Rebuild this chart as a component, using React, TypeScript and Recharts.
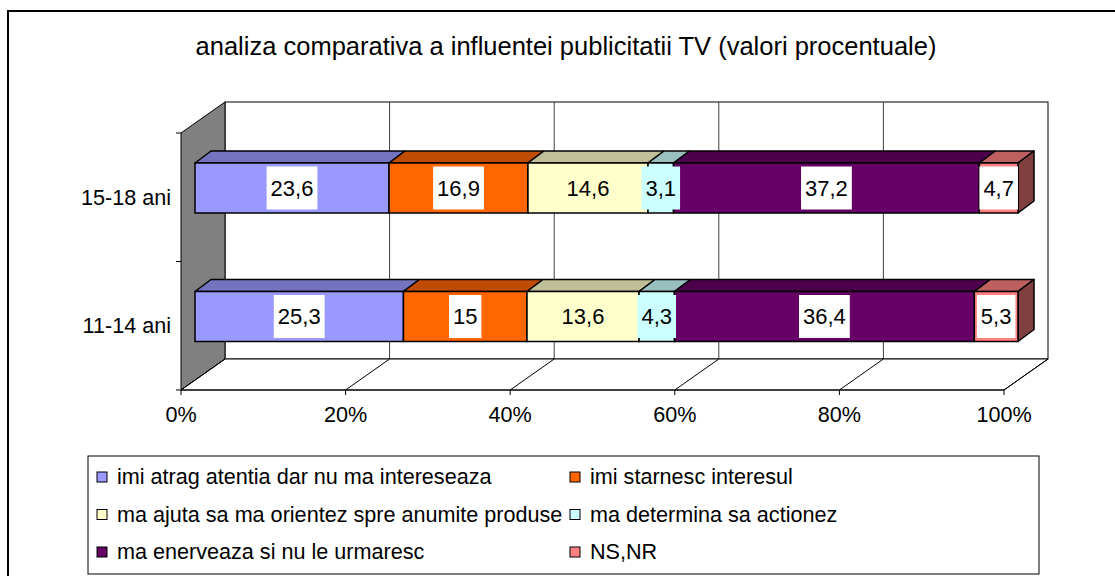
import React from 'react'
import { BarChart, Bar, XAxis, YAxis, LabelList } from 'recharts'

// date (valori procentuale)
const groups = ['15-18 ani', '11-14 ani']
const atrag = [23.6, 25.3]
const starnesc = [16.9, 15]
const ajuta = [14.6, 13.6]
const determina = [3.1, 4.3]
const enerveaza = [37.2, 36.4]
const nsnr = [4.7, 5.3]
const xTicks = [0, 0.2, 0.4, 0.6, 0.8, 1]

const TITLE = 'analiza comparativa a influentei publicitatii TV (valori procentuale)'
const FONT = '"Liberation Sans", Arial, Helvetica, sans-serif'

// geometria "3D"
const W = 1115
const H = 576
const PLOT_L = 181
const PLOT_T = 133
const PLOT_W = 823
const PLOT_H = 257
const WALL_DX = 44
const WALL_DY = 31
const BAR_DX = 14
const BAR_DY = 9
const FACE_DX = 16
const FACE_DY = 12
const X_AXIS_H = 40
const Y_AXIS_W = 100
const AXIS_FS = 21.6
const LABEL_FS = 22
const TITLE_FS = 25.5

const series = [
  { key: 'atrag', name: 'imi atrag atentia dar nu ma intereseaza', values: atrag, front: '#9999FF', top: '#7373BF', side: '#4D4D80', labelBg: '#FFFFFF' },
  { key: 'starnesc', name: 'imi starnesc interesul', values: starnesc, front: '#FF6600', top: '#BF4C00', side: '#803300', labelBg: '#FFFFFF' },
  { key: 'ajuta', name: 'ma ajuta sa ma orientez spre anumite produse', values: ajuta, front: '#FFFFCC', top: '#BFBF99', side: '#808066', labelBg: '#FFFFCC' },
  { key: 'determina', name: 'ma determina sa actionez', values: determina, front: '#CCFFFF', top: '#99BFBF', side: '#668080', labelBg: '#CCFFFF' },
  { key: 'enerveaza', name: 'ma enerveaza si nu le urmaresc', values: enerveaza, front: '#660066', top: '#4C004C', side: '#330033', labelBg: '#FFFFFF' },
  { key: 'nsnr', name: 'NS,NR', values: nsnr, front: '#FF8080', top: '#BF6060', side: '#804040', labelBg: '#FFFFFF' },
]

const data = groups.map((g, i) => {
  const row: Record<string, string | number> = { group: g }
  series.forEach((s) => { row[s.key] = s.values[i] })
  return row
})

// latimi aproximative Arial, pentru cutia etichetei
const charW = (c: string) => (c === ',' || c === '.' ? 0.278 : 0.556)
const textWidth = (t: string, fs: number) => t.split('').reduce((a, c) => a + charW(c), 0) * fs

const makeShape = (s: typeof series[number], last: boolean) => (p: any) => {
  const w = p.width
  const h = p.height
  if (!w || !h) return <g />
  const x = p.x + BAR_DX
  const y = p.y - BAR_DY
  const top = `${x},${y} ${x + FACE_DX},${y - FACE_DY} ${x + w + FACE_DX},${y - FACE_DY} ${x + w},${y}`
  const side = `${x + w},${y} ${x + w + FACE_DX},${y - FACE_DY} ${x + w + FACE_DX},${y + h - FACE_DY} ${x + w},${y + h}`
  return (
    <g>
      <polygon points={top} fill={s.top} stroke="#000" strokeWidth={1.5} strokeLinejoin="round" />
      {last && <polygon points={side} fill={s.side} stroke="#000" strokeWidth={1.5} strokeLinejoin="round" />}
      <rect x={x} y={y} width={w} height={h} fill={s.front} stroke="#000" strokeWidth={1.5} />
    </g>
  )
}

const makeLabel = (s: typeof series[number]) => (p: any) => {
  const vb = p.viewBox && p.viewBox.width !== undefined ? p.viewBox : p
  if (vb.x === undefined) return null
  let v = p.value
  if (Array.isArray(v) || v === undefined) v = s.values[p.index]
  const txt = String(v).replace('.', ',')
  const cx = vb.x + vb.width / 2 + BAR_DX
  const cy = vb.y + vb.height / 2 - BAR_DY
  const bw = textWidth(txt, LABEL_FS) + 8
  const bh = vb.height - 7
  return (
    <g>
      <rect x={cx - bw / 2} y={cy - bh / 2} width={bw} height={bh} fill={s.labelBg} />
      <text x={cx} y={cy} dy="0.36em" textAnchor="middle" fontSize={LABEL_FS} fontFamily={FONT} fill="#000">{txt}</text>
    </g>
  )
}

const Backdrop = () => {
  const backL = PLOT_L + WALL_DX
  const backT = PLOT_T - WALL_DY
  const floorY = PLOT_T + PLOT_H
  const backB = floorY - WALL_DY
  return (
    <svg width={W} height={H} style={{ position: 'absolute', left: 0, top: 0 }}>
      <rect x={8} y={11} width={W + 20} height={H + 20} fill="#fff" stroke="#000" strokeWidth={2} />
      <text x={566} y={55} textAnchor="middle" fontSize={TITLE_FS} fontFamily={FONT} fill="#000">{TITLE}</text>

      {/* perete spate */}
      <rect x={backL} y={backT} width={PLOT_W} height={PLOT_H} fill="#fff" stroke="#000" strokeWidth={1} />
      {xTicks.slice(1, -1).map((t) => (
        <line key={t} x1={backL + t * PLOT_W} y1={backT} x2={backL + t * PLOT_W} y2={backB} stroke="#404040" strokeWidth={1} />
      ))}
      {/* perete stanga */}
      <polygon
        points={`${PLOT_L},${PLOT_T} ${backL},${backT} ${backL},${backB} ${PLOT_L},${floorY}`}
        fill="#808080" stroke="#000" strokeWidth={1}
      />
      {/* podea */}
      <polygon
        points={`${PLOT_L},${floorY} ${backL},${backB} ${backL + PLOT_W},${backB} ${PLOT_L + PLOT_W},${floorY}`}
        fill="#fff" stroke="#000" strokeWidth={1}
      />
      {xTicks.map((t) => (
        <line key={t} x1={PLOT_L + t * PLOT_W} y1={floorY} x2={backL + t * PLOT_W} y2={backB} stroke="#000" strokeWidth={1} />
      ))}
      {[0, 0.5, 1].map((f) => (
        <line key={f} x1={PLOT_L - 5} y1={PLOT_T + f * PLOT_H} x2={PLOT_L} y2={PLOT_T + f * PLOT_H} stroke="#000" strokeWidth={1} />
      ))}

      {/* legenda */}
      <rect x={88} y={456} width={951} height={118} fill="#fff" stroke="#000" strokeWidth={1} />
      {series.map((s, i) => {
        const col = i % 2
        const row = Math.floor(i / 2)
        const mx = col === 0 ? 97 : 570
        const cy = 477 + row * 37.5
        return (
          <g key={s.key}>
            <rect x={mx} y={cy - 5} width={10} height={10} fill={s.front} stroke="#000" strokeWidth={1} />
            <text x={mx + 20} y={cy + 7} fontSize={AXIS_FS} fontFamily={FONT} fill="#000">{s.name}</text>
          </g>
        )
      })}
    </svg>
  )
}

export default function App() {
  return (
    <div style={{ position: 'absolute', left: 0, top: 0, width: W, height: H, background: '#fff' }}>
      <Backdrop />
      <div style={{ position: 'absolute', left: 0, top: 0 }}>
        <BarChart
          width={W}
          height={H}
          data={data}
          layout="vertical"
          stackOffset="expand"
          barSize={50}
          margin={{
            top: PLOT_T,
            right: W - PLOT_L - PLOT_W,
            bottom: H - PLOT_T - PLOT_H - X_AXIS_H,
            left: PLOT_L - Y_AXIS_W,
          }}
        >
          <XAxis
            type="number"
            domain={[0, 1]}
            ticks={xTicks}
            tickFormatter={(v: number) => `${Math.round(v * 100)}%`}
            height={X_AXIS_H}
            axisLine={{ stroke: '#000' }}
            tickLine={{ stroke: '#000' }}
            tickSize={5}
            tickMargin={12}
            tick={{ fill: '#000', fontSize: AXIS_FS, fontFamily: FONT }}
            interval={0}
          />
          <YAxis
            type="category"
            dataKey="group"
            width={Y_AXIS_W}
            axisLine={false}
            tickLine={false}
            tickMargin={4}
            tick={{ fill: '#000', fontSize: AXIS_FS, fontFamily: FONT }}
          />
          {series.map((s, i) => (
            <Bar
              key={s.key}
              dataKey={s.key}
              name={s.name}
              stackId="total"
              fill={s.front}
              isAnimationActive={false}
              shape={makeShape(s, i === series.length - 1)}
            >
              <LabelList dataKey={s.key} content={makeLabel(s)} />
            </Bar>
          ))}
        </BarChart>
      </div>
    </div>
  )
}
